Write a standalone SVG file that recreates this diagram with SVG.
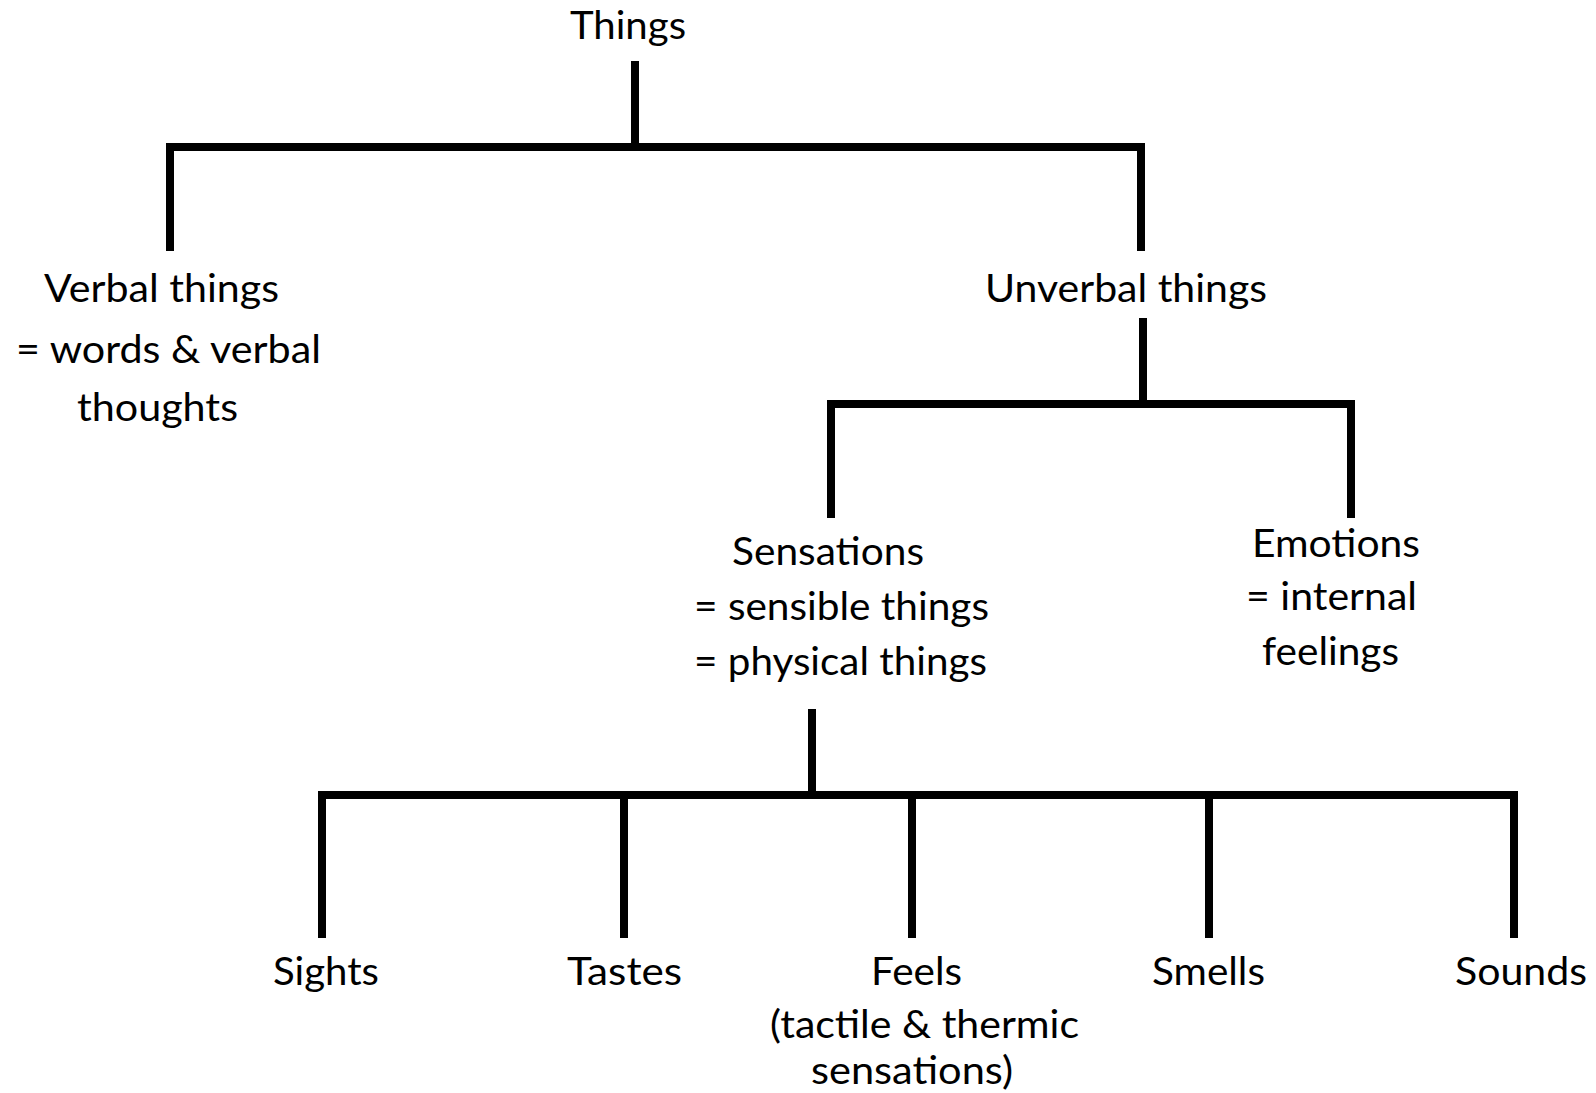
<svg xmlns="http://www.w3.org/2000/svg" width="1596" height="1093" viewBox="0 0 1596 1093">
<style>
text{font-family:Lato,"Open Sans","Liberation Sans",sans-serif;font-size:39px;fill:#000}
.c{fill:none;stroke:#000;stroke-width:8;stroke-linecap:butt;stroke-linejoin:miter}
</style>
<rect width="1596" height="1093" fill="#fff"/>
<g id="connectors">
<path class="c" d="M635 61V147"/>
<path class="c" d="M170 251V147H1141V251"/>
<path class="c" d="M1143 318V404"/>
<path class="c" d="M831 518V404H1351V518"/>
<path class="c" d="M812 709V795"/>
<path class="c" d="M322 938V795H1514V938"/>
<path class="c" d="M624 795V938"/>
<path class="c" d="M912 795V938"/>
<path class="c" d="M1209 795V938"/>
</g>
<g id="node-things"><text x="570" y="39" textLength="116" lengthAdjust="spacingAndGlyphs">Things</text></g>
<g id="node-verbal">
<text x="44" y="302" textLength="235" lengthAdjust="spacingAndGlyphs">Verbal things</text>
<text x="16" y="363" textLength="305" lengthAdjust="spacingAndGlyphs">= words &amp; verbal</text>
<text x="77" y="421" textLength="161" lengthAdjust="spacingAndGlyphs">thoughts</text>
</g>
<g id="node-unverbal"><text x="985" y="302" textLength="282" lengthAdjust="spacingAndGlyphs">Unverbal things</text></g>
<g id="node-sensations">
<text x="732" y="565" textLength="192" lengthAdjust="spacingAndGlyphs">Sensations</text>
<text x="694" y="620" textLength="295" lengthAdjust="spacingAndGlyphs">= sensible things</text>
<text x="694" y="675" textLength="293" lengthAdjust="spacingAndGlyphs">= physical things</text>
</g>
<g id="node-emotions">
<text x="1252" y="557" textLength="168" lengthAdjust="spacingAndGlyphs">Emotions</text>
<text x="1246" y="610" textLength="171" lengthAdjust="spacingAndGlyphs">= internal</text>
<text x="1262" y="665" textLength="137" lengthAdjust="spacingAndGlyphs">feelings</text>
</g>
<g id="node-sights"><text x="273" y="985" textLength="106" lengthAdjust="spacingAndGlyphs">Sights</text></g>
<g id="node-tastes"><text x="567" y="985" textLength="115" lengthAdjust="spacingAndGlyphs">Tastes</text></g>
<g id="node-feels">
<text x="871" y="985" textLength="91" lengthAdjust="spacingAndGlyphs">Feels</text>
<text x="770" y="1038" textLength="309" lengthAdjust="spacingAndGlyphs">(tactile &amp; thermic</text>
<text x="811" y="1084" textLength="202" lengthAdjust="spacingAndGlyphs">sensations)</text>
</g>
<g id="node-smells"><text x="1152" y="985" textLength="113" lengthAdjust="spacingAndGlyphs">Smells</text></g>
<g id="node-sounds"><text x="1455" y="985" textLength="132" lengthAdjust="spacingAndGlyphs">Sounds</text></g>
</svg>
